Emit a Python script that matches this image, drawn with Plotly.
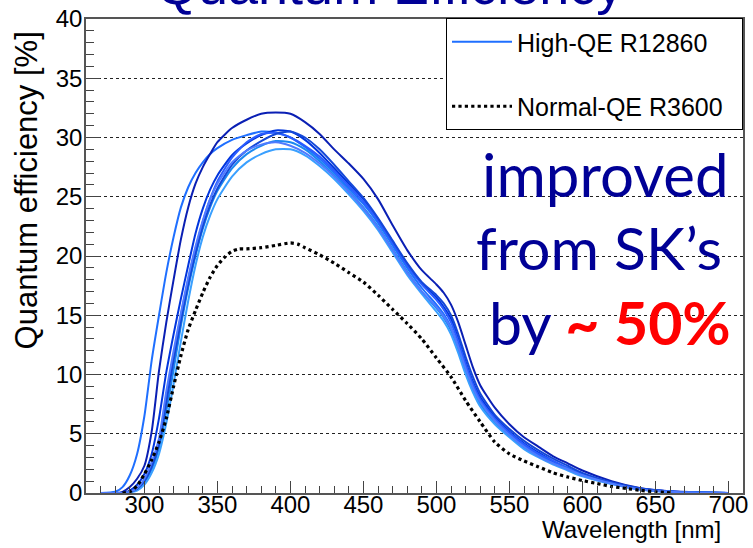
import plotly.graph_objects as go

# ---------------- data ----------------
wl = [270, 280, 285, 290, 295, 300, 305, 310, 315, 320, 325, 330, 335, 340, 345, 350,
      360, 370, 380, 390, 400, 410, 420, 430, 440, 450, 460, 470, 480, 490, 500, 505,
      510, 515, 520, 525, 530, 540, 550, 560, 570, 580, 590, 600, 620, 640, 660, 680, 700]

qe_c1 = [0, 0.1, 0.5, 1.5, 3.3, 6.5, 11.2, 15.0, 18.6, 21.6, 24.1, 25.8, 27.0, 27.9, 28.6, 29.1,
         29.8, 30.2, 30.5, 30.4, 30.0, 29.2, 28.2, 27.0, 25.7, 24.4, 22.8, 20.9, 19.0, 17.3, 15.9, 15.1,
         14.0, 12.4, 10.6, 9.0, 7.8, 6.2, 5.0, 4.0, 3.2, 2.6, 2.0, 1.5, 0.8, 0.3, 0.1, 0.03, 0]
qe_c2 = [0, 0, 0.1, 0.5, 1.2, 2.3, 5.2, 10.3, 14.4, 18.0, 21.4, 24.1, 26.1, 27.5, 28.6, 29.6,
         30.8, 31.5, 32.0, 32.1, 32.0, 31.3, 30.3, 29.0, 27.8, 26.5, 24.8, 22.6, 20.5, 18.8, 17.6, 16.9,
         15.9, 14.4, 12.5, 10.6, 9.1, 7.2, 5.8, 4.7, 3.9, 3.1, 2.5, 1.9, 1.0, 0.4, 0.15, 0.05, 0]
qe_c3 = [0, 0, 0, 0.2, 0.7, 1.6, 3.3, 6.3, 10.2, 13.4, 16.4, 19.2, 21.9, 24.0, 25.6, 26.8,
         28.5, 29.5, 30.2, 30.6, 30.5, 29.8, 28.7, 27.4, 26.1, 24.8, 23.1, 21.2, 19.3, 17.7, 16.5, 15.7,
         14.7, 13.0, 11.1, 9.4, 8.1, 6.4, 5.2, 4.2, 3.4, 2.7, 2.1, 1.6, 0.85, 0.35, 0.12, 0.04, 0]
qe_c4 = [0, 0, 0, 0.1, 0.4, 1.1, 2.4, 4.3, 8.2, 11.6, 15.0, 18.0, 20.6, 22.9, 24.8, 26.3,
         28.3, 29.6, 30.3, 30.4, 30.0, 29.3, 28.4, 27.2, 25.9, 24.6, 23.0, 21.1, 19.2, 17.6, 16.3, 15.5,
         14.4, 12.8, 10.9, 9.2, 7.9, 6.3, 5.1, 4.1, 3.3, 2.7, 2.1, 1.6, 0.85, 0.35, 0.12, 0.04, 0]
qe_c5 = [0, 0, 0, 0.1, 0.3, 0.9, 2.0, 3.8, 6.9, 10.4, 14.1, 17.3, 20.0, 22.3, 24.1, 25.5,
         27.4, 28.6, 29.3, 29.7, 29.6, 29.0, 28.0, 26.8, 25.5, 24.1, 22.5, 20.6, 18.7, 17.0, 15.6, 14.8,
         13.7, 12.1, 10.3, 8.7, 7.5, 5.9, 4.8, 3.8, 3.1, 2.5, 2.0, 1.5, 0.8, 0.3, 0.1, 0.03, 0]
qe_c6 = [0, 0, 0, 0.05, 0.2, 0.7, 1.7, 3.3, 5.9, 9.2, 12.8, 16.2, 19.2, 21.6, 23.4, 24.8,
         26.7, 27.9, 28.6, 29.0, 29.0, 28.5, 27.6, 26.5, 25.2, 23.8, 22.2, 20.3, 18.4, 16.8, 15.3, 14.5,
         13.4, 11.8, 10.0, 8.5, 7.3, 5.8, 4.7, 3.7, 3.0, 2.4, 1.9, 1.4, 0.75, 0.3, 0.1, 0.03, 0]
qe_c7 = [0, 0, 0, 0.08, 0.35, 1.0, 2.2, 4.1, 7.6, 11.2, 14.5, 17.6, 20.2, 22.5, 24.3, 25.7,
         27.7, 28.9, 29.7, 30.3, 30.5, 30.0, 29.0, 27.7, 26.3, 24.9, 23.2, 21.3, 19.4, 17.8, 16.7, 16.0,
         15.0, 13.4, 11.5, 9.8, 8.4, 6.6, 5.4, 4.4, 3.6, 2.9, 2.3, 1.7, 0.9, 0.38, 0.13, 0.04, 0]
qe_c8 = [0, 0, 0, 0.1, 0.4, 1.2, 2.6, 4.6, 8.6, 12.0, 15.2, 18.2, 20.8, 23.0, 24.8, 26.1,
         27.9, 28.9, 29.4, 29.6, 29.3, 28.7, 27.8, 26.7, 25.4, 24.0, 22.4, 20.5, 18.6, 17.0, 15.7, 14.9,
         13.9, 12.3, 10.5, 8.9, 7.7, 6.1, 4.9, 3.9, 3.1, 2.5, 2.0, 1.5, 0.8, 0.3, 0.1, 0.03, 0]

high_qe_curves = [qe_c1, qe_c2, qe_c3, qe_c4, qe_c5, qe_c6, qe_c7, qe_c8]
high_qe_colors = ["#1f6fff", "#0a1fb4", "#0035dd", "#2a5cff", "#1a88f0", "#3aa0ff", "#1448d8", "#4f7bff"]

wl_sk = [285, 290, 295, 300, 305, 310, 315, 320, 325, 330, 335, 340, 345, 350, 355, 360, 365, 370,
         380, 390, 400, 405, 410, 420, 430, 440, 450, 460, 470, 480, 490, 500, 510, 520, 530, 540,
         550, 560, 570, 580, 590, 600, 610, 620, 630, 640, 650, 660]
qe_sk = [0, 0.1, 0.6, 1.6, 2.8, 4.3, 6.3, 9.0, 11.6, 13.8, 15.4, 16.9, 18.2, 19.2, 19.9, 20.4, 20.6, 20.6,
         20.7, 20.9, 21.1, 21.0, 20.7, 20.1, 19.4, 18.6, 17.8, 16.7, 15.5, 14.3, 13.0, 11.4, 9.8, 7.8, 6.0, 4.3,
         3.3, 2.7, 2.2, 1.7, 1.35, 1.05, 0.8, 0.55, 0.38, 0.22, 0.1, 0.02]

x_ticks = [300, 350, 400, 450, 500, 550, 600, 650, 700]
y_ticks = [0, 5, 10, 15, 20, 25, 30, 35, 40]

legend_names = ["High-QE R12860", "Normal-QE R3600\u00a0\u00a0"]

# ---------------- figure ----------------
FONT = "Liberation Sans, Arial, Helvetica, sans-serif"
NAVY = "#000096"

fig = go.Figure()
for i, (qe, col) in enumerate(zip(high_qe_curves, high_qe_colors)):
    fig.add_trace(go.Scatter(
        x=wl, y=qe, mode="lines", line=dict(color=col, width=2, shape="spline", smoothing=0.6),
        name=legend_names[0], legendgroup="hqe", showlegend=(i == 0)))
fig.add_trace(go.Scatter(
    x=wl_sk, y=qe_sk, mode="lines", line=dict(color="black", width=3.2, dash="dot", shape="spline", smoothing=0.6),
    name=legend_names[1], legendgroup="sk"))

L, R, T, B = 86, 5, 18, 55
W, H = 753, 548
pw, ph = W - L - R, H - T - B

def px(xp):
    return (xp - L) / pw

def py(yp):
    return (H - B - yp) / ph

fig.update_layout(
    width=W, height=H,
    margin=dict(l=L, r=R, t=T, b=B),
    paper_bgcolor="white", plot_bgcolor="white",
    font=dict(family=FONT, color="black"),
    showlegend=True,
    legend=dict(x=1, xanchor="right", y=py(17), yanchor="top",
                bgcolor="white", bordercolor="black", borderwidth=1,
                font=dict(size=25, family=FONT), tracegroupgap=29,
                itemwidth=60),
    xaxis=dict(range=[260, 710], tickvals=x_ticks, ticks="inside", ticklen=12, tickwidth=1.2,
               tickcolor="#444", showline=True, linecolor="#555", linewidth=1.5, mirror=True,
               showgrid=False, zeroline=False, tickfont=dict(size=24, family=FONT),
               ticklabelstandoff=-11,
               minor=dict(dtick=10, ticks="inside", ticklen=7, tickcolor="#444", showgrid=False)),
    yaxis=dict(range=[0, 40], tickvals=y_ticks, ticks="inside", ticklen=14, tickwidth=1.2,
               tickcolor="#444", showline=True, linecolor="#555", linewidth=1.5, mirror=True,
               showgrid=True, gridcolor="#222", gridwidth=1, griddash="dot", zeroline=False,
               tickfont=dict(size=24, family=FONT), ticklabelstandoff=-3,
               minor=dict(dtick=1, ticks="inside", ticklen=8, tickcolor="#444", showgrid=False)),
)

ann = []
ann.append(dict(text="Quantum efficiency [%]", textangle=-90, x=px(27), y=py(28), xanchor="center",
                yanchor="top", font=dict(size=31, family=FONT)))
ann.append(dict(text="Wavelength [nm]", x=px(728), y=py(530), xanchor="right", yanchor="middle",
                font=dict(size=24, family=FONT)))
ann.append(dict(text="Quantum Efficiency", x=px(392), y=py(-16), xanchor="center", yanchor="middle",
                font=dict(size=54, family=FONT, color=NAVY)))
BIG = "Lato, Noto Sans, sans-serif"
ann.append(dict(text="improved", x=px(609), y=py(173), xanchor="center", yanchor="middle",
                font=dict(size=60, family=BIG, color=NAVY)))
ann.append(dict(text="from SK\u2019s", x=px(603), y=py(247), xanchor="center", yanchor="middle",
                font=dict(size=59, family=BIG, color=NAVY)))
ann.append(dict(text="by <b><span style='color:#ff0000'>~ 50%</span></b>", x=px(614), y=py(322),
                xanchor="center", yanchor="middle", font=dict(size=59, family=BIG, color=NAVY)))
for a in ann:
    a.update(xref="paper", yref="paper", showarrow=False)
fig.update_layout(annotations=ann)

fig.write_html("out.html")
